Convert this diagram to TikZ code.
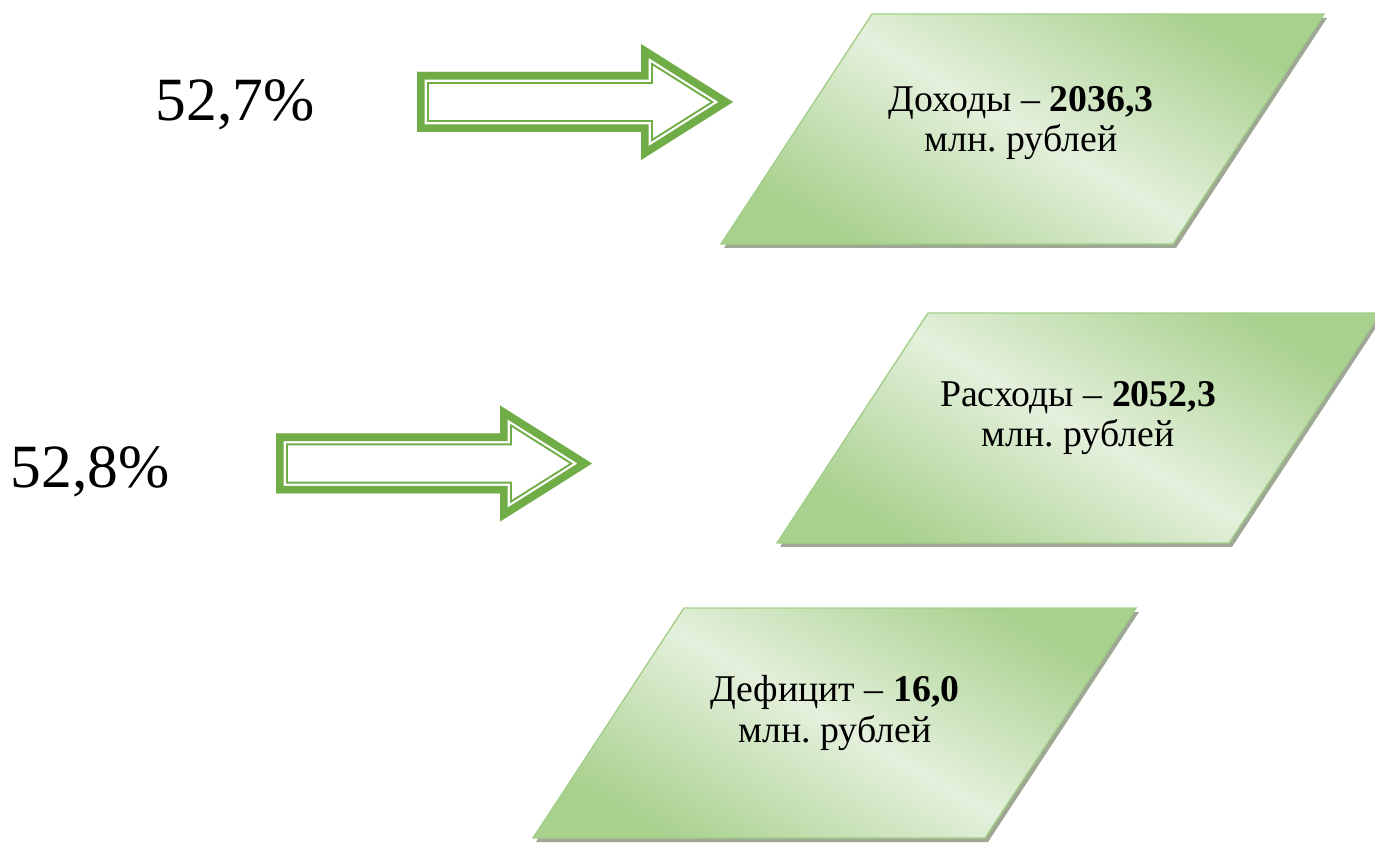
\documentclass[tikz,border=0pt]{standalone}
\usepackage{fontspec}
\setmainfont{Liberation Serif}
\usetikzlibrary{positioning}
\definecolor{boxdark}{HTML}{A9D18E}
\definecolor{boxlight}{HTML}{E4F0DC}
\definecolor{boxedge}{HTML}{A3CF8A}
\definecolor{shadowgray}{HTML}{9EA894}
\definecolor{arrgreen}{HTML}{70AD47}
\tikzstyle{pct} = [font=\fontsize{35}{40}\selectfont, inner sep=0pt, anchor=base]
\tikzstyle{boxtext} = [font=\fontsize{21.5}{23}\selectfont\frenchspacing, align=center, inner sep=0pt]
\tikzstyle{slant} = [draw=boxedge, line width=0.8pt, top color=boxdark, bottom color=boxdark, middle color=boxlight, shading angle=-30]
\tikzstyle{slantshadow} = [fill=shadowgray]
\tikzstyle{outer} = [draw=arrgreen, line width=13.6pt, line join=miter]
\tikzstyle{gap} = [draw=white, line width=11.3pt, line join=miter]
\tikzstyle{inner} = [draw=arrgreen, line width=8.8pt, line join=miter]

% parallelogram from its bottom left corner
\newcommand{\slantbox}[1]{%
  \fill[slantshadow] ([shift={(3,-4)}]#1) -- ++(452,0) -- ++(151,230) -- ++(-452,0) -- cycle;
  \path[slant] (#1) -- ++(452,0) -- ++(151,230) -- ++(-452,0) -- cycle;
}
\newcommand{\arrowpath}{(0,30) -- (224,30) -- (224,58) -- (316,0) -- (224,-58) -- (224,-30) -- (0,-30) -- cycle}
% double framed arrow from the middle of its back end
\newcommand{\fatarrow}[1]{%
  \begin{scope}[shift={(#1)}]
    \fill[white] \arrowpath;
    \clip \arrowpath;
    \path[outer] \arrowpath;
    \path[gap] \arrowpath;
    \path[inner] \arrowpath;
  \end{scope}
}

\begin{document}
\begin{tikzpicture}[x=0.02cm, y=0.02cm]
    \useasboundingbox (0,0) rectangle (1375,842);

    \coordinate (incbl) at (721,598);
    \coordinate (expbl) at (777,299);
    \coordinate (defbl) at (533,4);
    \slantbox{incbl}
    \slantbox{expbl}
    \slantbox{defbl}

    \node (inc) [boxtext] at (1021,719) {Доходы – \textbf{2036,3}\\млн. рублей};
    \node (exp) [boxtext] at (1078,424) {Расходы – \textbf{2052,3}\\млн. рублей};
    \node (def) [boxtext] at (835,129) {Дефицит – \textbf{16,0}\\млн. рублей};

    \coordinate (arr1) at (417,740);
    \coordinate (arr2) at (276,378.5);
    \fatarrow{arr1}
    \fatarrow{arr2}

    \node (pct1) [pct] at (235,721) {52,7\%};
    \node (pct2) [pct] at (90,354) {52,8\%};
\end{tikzpicture}
\end{document}
